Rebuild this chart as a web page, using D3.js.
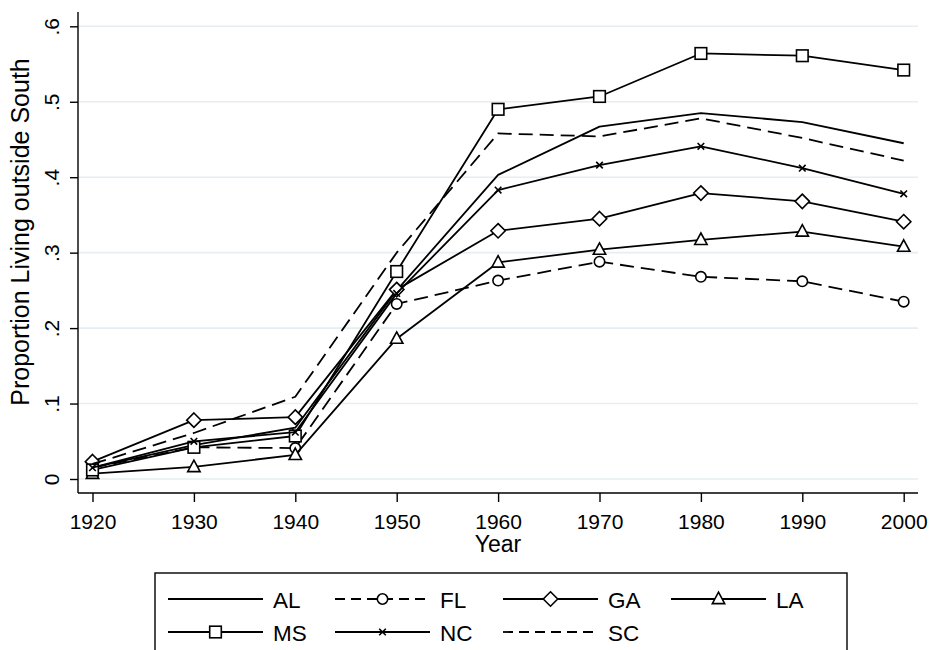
<!DOCTYPE html>
<html>
<head>
<meta charset="utf-8">
<script src="https://cdn.jsdelivr.net/npm/d3@7"></script>
<style>
  html, body { margin: 0; padding: 0; background: #fff; }
  svg { display: block; font-family: "Liberation Sans", Arial, sans-serif; }
</style>
</head>
<body>
<svg id="chart" width="935" height="650"></svg>
<script>
const years = [1920, 1930, 1940, 1950, 1960, 1970, 1980, 1990, 2000];
const AL = [0.015, 0.045, 0.068, 0.250, 0.403, 0.467, 0.485, 0.473, 0.445];
const FL = [0.015, 0.042, 0.041, 0.232, 0.263, 0.288, 0.268, 0.262, 0.235];
const GA = [0.023, 0.078, 0.082, 0.251, 0.329, 0.345, 0.379, 0.368, 0.341];
const LA = [0.007, 0.016, 0.032, 0.186, 0.287, 0.304, 0.317, 0.328, 0.308];
const MS = [0.012, 0.042, 0.057, 0.275, 0.490, 0.507, 0.564, 0.561, 0.542];
const NC = [0.015, 0.050, 0.062, 0.246, 0.383, 0.416, 0.441, 0.412, 0.378];
const SC = [0.020, 0.061, 0.109, 0.300, 0.458, 0.454, 0.478, 0.452, 0.422];
const yTicks = [0, 0.1, 0.2, 0.3, 0.4, 0.5, 0.6];
const yTickLabels = ["0", ".1", ".2", ".3", ".4", ".5", ".6"];
const xTicks = [1920, 1930, 1940, 1950, 1960, 1970, 1980, 1990, 2000];

const series = [
  { name: "AL", values: AL, dash: null, marker: null },
  { name: "FL", values: FL, dash: "14,7", marker: "circle" },
  { name: "GA", values: GA, dash: null, marker: "diamond" },
  { name: "LA", values: LA, dash: null, marker: "triangle" },
  { name: "MS", values: MS, dash: null, marker: "square" },
  { name: "NC", values: NC, dash: null, marker: "x" },
  { name: "SC", values: SC, dash: "14,7", marker: null }
];

const svg = d3.select("#chart");
const x = d3.scaleLinear().domain([1920, 2000]).range([92.5, 903.7]);
const y = d3.scaleLinear().domain([0, 0.6]).range([479, 26.3]);
const plotL = 78, plotR = 918, plotT = 12, plotB = 493;
const FS_TICK = 21, FS_TITLE = 23, FS_YTITLE = 25, FS_LEG = 22.5;

// gridlines
svg.append("g").selectAll("line").data(yTicks).join("line")
  .attr("x1", plotL).attr("x2", plotR)
  .attr("y1", d => y(d)).attr("y2", d => y(d))
  .attr("stroke", "#e6eef1").attr("stroke-width", 1.6);

// y axis
const yAxis = d3.axisLeft(y).tickValues(yTicks).tickSize(8)
  .tickFormat((d, i) => yTickLabels[i]);
const gy = svg.append("g").attr("transform", `translate(${plotL},0)`).call(yAxis);
gy.select(".domain").attr("d", `M0,${plotT}V${plotB}`).attr("stroke", "#000").attr("stroke-width", 1.4);
gy.selectAll(".tick line").attr("stroke", "#000").attr("stroke-width", 1.4);
gy.selectAll(".tick text")
  .attr("font-size", FS_TICK).attr("fill", "#000")
  .attr("text-anchor", "middle")
  .attr("x", null).attr("dy", null)
  .attr("transform", "translate(-19,0) rotate(-90)");

// x axis
const xAxis = d3.axisBottom(x).tickValues(xTicks).tickSize(9).tickFormat(d3.format("d"));
const gx = svg.append("g").attr("transform", `translate(0,${plotB})`).call(xAxis);
gx.select(".domain").attr("d", `M${plotL},0H${plotR}`).attr("stroke", "#000").attr("stroke-width", 1.4);
gx.selectAll(".tick line").attr("stroke", "#000").attr("stroke-width", 1.4);
gx.selectAll(".tick text").attr("font-size", FS_TICK).attr("fill", "#000")
  .attr("y", 36).attr("dy", null);

// axis titles
svg.append("text").attr("x", 498).attr("y", 552).attr("text-anchor", "middle")
  .attr("font-size", FS_TITLE).text("Year");
svg.append("text").attr("transform", `translate(29,232) rotate(-90)`)
  .attr("text-anchor", "middle").attr("font-size", FS_YTITLE).text("Proportion Living outside South");

// markers
function drawMarker(g, type, cx, cy) {
  const s = 1.6;
  if (type === "circle") {
    g.append("circle").attr("cx", cx).attr("cy", cy).attr("r", 5.2)
      .attr("fill", "#fff").attr("stroke", "#000").attr("stroke-width", s);
  } else if (type === "diamond") {
    const r = 7.2;
    g.append("path").attr("d", `M${cx},${cy - r}L${cx + r},${cy}L${cx},${cy + r}L${cx - r},${cy}Z`)
      .attr("fill", "#fff").attr("stroke", "#000").attr("stroke-width", s);
  } else if (type === "triangle") {
    const r = 6.2;
    g.append("path").attr("d", `M${cx},${cy - r * 1.1}L${cx + r},${cy + r * 0.75}L${cx - r},${cy + r * 0.75}Z`)
      .attr("fill", "#fff").attr("stroke", "#000").attr("stroke-width", s);
  } else if (type === "square") {
    const r = 5.8;
    g.append("rect").attr("x", cx - r).attr("y", cy - r).attr("width", 2 * r).attr("height", 2 * r)
      .attr("fill", "#fff").attr("stroke", "#000").attr("stroke-width", s);
  } else if (type === "x") {
    const r = 3.3;
    g.append("path").attr("d", `M${cx - r},${cy - r}L${cx + r},${cy + r}M${cx - r},${cy + r}L${cx + r},${cy - r}`)
      .attr("stroke", "#000").attr("stroke-width", s);
  }
}

const line = d3.line().x((d, i) => x(years[i])).y(d => y(d));
const plotG = svg.append("g");
series.forEach(s => {
  const g = plotG.append("g");
  g.append("path").datum(s.values).attr("d", line)
    .attr("fill", "none").attr("stroke", "#000").attr("stroke-width", 1.8)
    .attr("stroke-linejoin", "round")
    .attr("stroke-dasharray", s.dash);
  if (s.marker) s.values.forEach((v, i) => drawMarker(g, s.marker, x(years[i]), y(v)));
});

// legend
const leg = svg.append("g");
leg.append("rect").attr("x", 155).attr("y", 573).attr("width", 692).attr("height", 85)
  .attr("fill", "#fff").attr("stroke", "#000").attr("stroke-width", 1.4);
const colX = [168, 335, 503, 671];
const rowY = [599, 632];
series.forEach((s, i) => {
  const cx0 = colX[i % 4], cy0 = rowY[Math.floor(i / 4)];
  const g = leg.append("g");
  g.append("line").attr("x1", cx0).attr("x2", cx0 + 95).attr("y1", cy0).attr("y2", cy0)
    .attr("stroke", "#000").attr("stroke-width", 1.8).attr("stroke-dasharray", s.dash ? "10,6" : null);
  if (s.marker) drawMarker(g, s.marker, cx0 + 47.5, cy0);
  g.append("text").attr("x", cx0 + 105).attr("y", cy0 + 8.5).attr("font-size", FS_LEG).text(s.name);
});
</script>
</body>
</html>
